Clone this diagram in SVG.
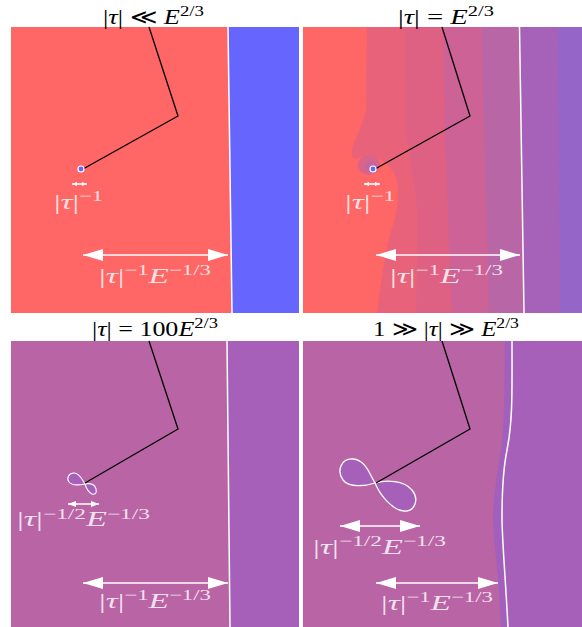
<svg xmlns="http://www.w3.org/2000/svg" width="582" height="627" viewBox="0 0 582 627">
<style>
text{font-family:"Liberation Serif","DejaVu Serif",serif}
.t{font-size:21px;fill:#000}
.l{font-size:22px;fill:#fff;fill-opacity:0.82}
.i{font-style:italic}
.s{font-size:15px}
.path{fill:none;stroke:#000;stroke-width:1.3}
.wl{fill:none;stroke:#fff;stroke-width:1.5}
.arr{stroke:#fff;stroke-width:1.5}
</style>
<defs>
<marker id="big" markerUnits="userSpaceOnUse" markerWidth="20" markerHeight="12" refX="20" refY="6" orient="auto-start-reverse" viewBox="0 0 20 12"><path d="M0,0 L20,6 L0,12 Z" fill="#fff"/></marker>
<marker id="mid" markerUnits="userSpaceOnUse" markerWidth="8" markerHeight="6" refX="8" refY="3" orient="auto-start-reverse" viewBox="0 0 8 6"><path d="M0,0 L8,3 L0,6 Z" fill="#fff"/></marker>
<marker id="tiny" markerUnits="userSpaceOnUse" markerWidth="5" markerHeight="4" refX="5" refY="2" orient="auto-start-reverse" viewBox="0 0 5 4"><path d="M0,0 L5,2 L0,4 Z" fill="#fff"/></marker>
</defs>
<rect width="582" height="627" fill="#fff"/>

<g id="panel1">
<rect x="11" y="27" width="288" height="286" fill="#FF6666"/>
<path d="M228,27 H299 V313 H232 Q229.5,170 228,27 Z" fill="#6666FF"/>
<path class="wl" d="M228,27 Q229.5,170 232,313"/>
</g>

<g id="panel2">
<rect x="303" y="27" width="279" height="286" fill="#FF6666"/>
<path d="M367,27 H582 V313 H377 C380,290 385,250 392,228 C398,210 400,190 396,178 C393,170 388,164 381,160 C376,156 364,155 358,158 C354,160 351,158 352,150 C354,140 363,125 366,110 Z" fill="#E8637A"/>
<ellipse cx="369" cy="165" rx="11" ry="10" fill="#D9638B"/>
<circle cx="371" cy="167" r="6" fill="#C764A0"/>
<path d="M405,27 H582 V313 H416 C417,280 418,240 417,210 C416,190 410,160 406,130 C405,100 405,60 405,27 Z" fill="#DE6183"/>
<path d="M443,27 H582 V313 H452 C450,270 448,220 447,180 C445,140 444,100 443,27 Z" fill="#CC6296"/>
<path d="M482,27 H582 V313 H489 C488,260 486,200 485,150 C484,100 482,60 482,27 Z" fill="#B966A6"/>
<path d="M519.5,27 H582 V313 H524 Z" fill="#A662B9"/>
<path d="M558,27 H582 V313 H560 Z" fill="#9665C8"/>
<path class="wl" d="M519.5,27 L524,313"/>
</g>

<g id="panel3">
<rect x="11" y="341" width="288" height="286" fill="#B964A5"/>
<path d="M227,341 H299 V627 H230 Z" fill="#A660B9"/>
<path class="wl" d="M227,341 L230,627"/>
</g>

<g id="panel4">
<rect x="303" y="341" width="279" height="286" fill="#B964A5"/>
<path d="M505,341 C504,390 505,420 501,450 C497,475 493,500 493,517 C493,540 497,560 499,590 L501,627 H582 V341 Z" fill="#A35FBC"/>
<path d="M512,341 C512,390 513,420 507,450 C503,470 502,500 502,517 C502,540 505,570 508,627 H582 V341 Z" fill="#A660B9"/>
<path class="wl" d="M512,341 C512,390 513,420 507,450 C503,470 502,500 502,517 C502,540 505,570 508,627"/>
</g>

<g id="orbits">
<path d="M375,483 C370,475 366,460 353,459 C342,458 336,470 343,480 C349,488 366,486 375,483 C386,480 404,480 412,490 C420,500 414,512 404,511 C392,510 380,495 375,483 Z" fill="#A660B9" stroke="#fff" stroke-width="1.3"/>
<path d="M85,484 C82,480 80,473 74,473 C69,473 66,478 69,482 C72,486 80,485 85,484 C90,483 95,484 96,489 C97,493 95,495 92,494 C89,493 86,488 85,484 Z" fill="#A660B9" stroke="#fff" stroke-width="1.1"/>
</g>

<g id="connectors">
<polyline class="path" points="149,27 178,116 83,169"/>
<polyline class="path" points="442,27 470,116 375,169"/>
<polyline class="path" points="149,341 178,429 85,483"/>
<polyline class="path" points="442,341 470,429 376,483"/>
<line class="arr" x1="72" y1="184" x2="87" y2="184" marker-start="url(#tiny)" marker-end="url(#tiny)"/>
<line class="arr" x1="364" y1="184" x2="380" y2="184" marker-start="url(#tiny)" marker-end="url(#tiny)"/>
<line class="arr" x1="83" y1="255" x2="228" y2="255" marker-start="url(#big)" marker-end="url(#big)"/>
<line class="arr" x1="376" y1="255" x2="520" y2="255" marker-start="url(#big)" marker-end="url(#big)"/>
<line class="arr" x1="68" y1="504" x2="99" y2="504" marker-start="url(#mid)" marker-end="url(#mid)"/>
<line class="arr" x1="83" y1="583" x2="228" y2="583" marker-start="url(#big)" marker-end="url(#big)"/>
<line class="arr" x1="340" y1="526" x2="420" y2="526" marker-start="url(#big)" marker-end="url(#big)"/>
<line class="arr" x1="376" y1="583" x2="498" y2="583" marker-start="url(#big)" marker-end="url(#big)"/>
</g>

<g id="points">
<circle cx="81" cy="169" r="3" fill="#6666FF" stroke="#fff" stroke-width="1.2"/>
<circle cx="373" cy="169" r="3" fill="#6666FF" stroke="#fff" stroke-width="1.2"/>
</g>

<g id="titles">
<text class="t" x="103" y="24" textLength="101" lengthAdjust="spacingAndGlyphs">|<tspan class="i">τ</tspan>| ≪ <tspan class="i">E</tspan><tspan class="s" dy="-8">2/3</tspan></text>
<text class="t" x="398" y="24" textLength="96" lengthAdjust="spacingAndGlyphs">|<tspan class="i">τ</tspan>| = <tspan class="i">E</tspan><tspan class="s" dy="-8">2/3</tspan></text>
<text class="t" x="92" y="336" textLength="126" lengthAdjust="spacingAndGlyphs">|<tspan class="i">τ</tspan>| = 100<tspan class="i">E</tspan><tspan class="s" dy="-8">2/3</tspan></text>
<text class="t" x="373" y="336" textLength="146" lengthAdjust="spacingAndGlyphs">1 ≫ |<tspan class="i">τ</tspan>| ≫ <tspan class="i">E</tspan><tspan class="s" dy="-8">2/3</tspan></text>
</g>

<g id="labels">
<text class="l" x="54" y="209" textLength="49" lengthAdjust="spacingAndGlyphs">|<tspan class="i">τ</tspan>|<tspan class="s" dy="-8">−1</tspan></text>
<text class="l" x="345" y="209" textLength="50" lengthAdjust="spacingAndGlyphs">|<tspan class="i">τ</tspan>|<tspan class="s" dy="-8">−1</tspan></text>
<text class="l" x="99" y="283" textLength="112" lengthAdjust="spacingAndGlyphs">|<tspan class="i">τ</tspan>|<tspan class="s" dy="-8">−1</tspan><tspan class="i" dy="8">E</tspan><tspan class="s" dy="-8">−1/3</tspan></text>
<text class="l" x="390" y="283" textLength="113" lengthAdjust="spacingAndGlyphs">|<tspan class="i">τ</tspan>|<tspan class="s" dy="-8">−1</tspan><tspan class="i" dy="8">E</tspan><tspan class="s" dy="-8">−1/3</tspan></text>
<text class="l" x="17" y="526" textLength="133" lengthAdjust="spacingAndGlyphs">|<tspan class="i">τ</tspan>|<tspan class="s" dy="-7">−1/2</tspan><tspan class="i" dy="7">E</tspan><tspan class="s" dy="-7">−1/3</tspan></text>
<text class="l" x="99" y="608" textLength="112" lengthAdjust="spacingAndGlyphs">|<tspan class="i">τ</tspan>|<tspan class="s" dy="-8">−1</tspan><tspan class="i" dy="8">E</tspan><tspan class="s" dy="-8">−1/3</tspan></text>
<text class="l" x="313" y="554" textLength="133" lengthAdjust="spacingAndGlyphs">|<tspan class="i">τ</tspan>|<tspan class="s" dy="-8">−1/2</tspan><tspan class="i" dy="8">E</tspan><tspan class="s" dy="-8">−1/3</tspan></text>
<text class="l" x="381" y="610" textLength="112" lengthAdjust="spacingAndGlyphs">|<tspan class="i">τ</tspan>|<tspan class="s" dy="-8">−1</tspan><tspan class="i" dy="8">E</tspan><tspan class="s" dy="-8">−1/3</tspan></text>
</g>
</svg>
